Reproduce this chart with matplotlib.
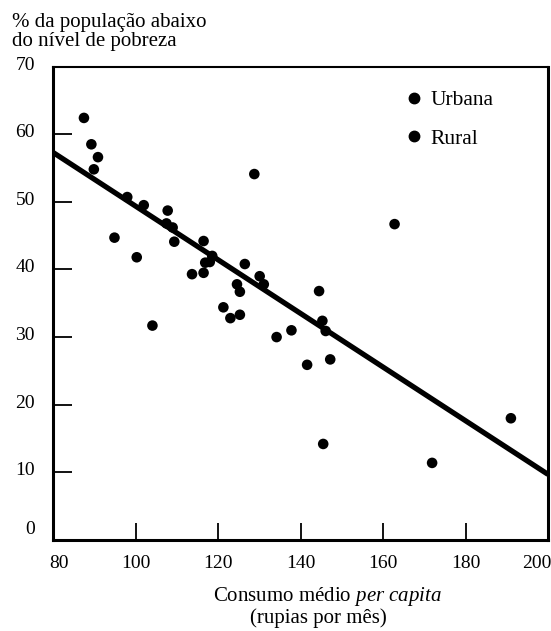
import matplotlib
matplotlib.use("Agg")
import matplotlib.pyplot as plt
import matplotlib.transforms as mtransforms
from matplotlib.lines import Line2D

plt.rcParams['font.family'] = ['Liberation Serif', 'DejaVu Serif']
plt.rcParams['mathtext.fontset'] = 'custom'
plt.rcParams['mathtext.rm'] = 'Liberation Serif'
plt.rcParams['mathtext.it'] = 'Liberation Serif:italic'

# Consumo médio per capita (rupias por mês) e % abaixo da linha de pobreza
consumo = [87.5, 89.3, 90.9, 89.9, 98.0, 102.0, 107.8, 107.5, 109.0, 109.4,
           94.9, 100.3, 116.5, 118.6, 116.9, 118.0, 113.7, 116.5, 104.1, 128.8,
           126.5, 130.1, 131.1, 124.6, 125.3, 121.3, 123.0, 125.3, 134.2, 137.8,
           144.5, 145.3, 146.1, 141.6, 147.2, 145.5, 162.8, 171.9, 191.0]
pobreza = [62.4, 58.5, 56.6, 54.8, 50.7, 49.5, 48.7, 46.8, 46.2, 44.1,
           44.7, 41.8, 44.2, 42.0, 41.0, 41.1, 39.3, 39.5, 31.7, 54.1,
           40.8, 39.0, 37.8, 37.8, 36.7, 34.4, 32.8, 33.3, 30.0, 31.0,
           36.8, 32.4, 30.9, 25.9, 26.7, 14.2, 46.7, 11.4, 18.0]

# Reta de tendência
reta_x = [80, 200]
reta_y = [57.3, 9.7]

x_ticks = [80, 100, 120, 140, 160, 180, 200]
y_ticks = [0, 10, 20, 30, 40, 50, 60, 70]
legenda = ["Urbana", "Rural"]

fig = plt.figure(figsize=(5.51, 6.31), dpi=100)
ax = fig.add_axes([0.0962, 0.1442, 0.8984, 0.7504])

ax.plot(reta_x, reta_y, color='black', lw=3.8, solid_capstyle='butt', zorder=2)
ax.scatter(consumo, pobreza, s=58, color='black', edgecolors='none', zorder=3)

ax.set_xlim(80, 200)
ax.set_ylim(0, 70)

for side in ['left', 'bottom', 'right']:
    ax.spines[side].set_linewidth(2.2)
ax.spines['top'].set_linewidth(1.5)

ax.set_xticks(x_ticks)
ax.set_xticklabels([str(v) for v in x_ticks])
ax.set_yticks(y_ticks)
ax.set_yticklabels([str(v) for v in y_ticks])

ax.tick_params(axis='y', direction='in', length=14, width=1.3, pad=13,
               labelsize=14)
ax.tick_params(axis='x', direction='in', length=12.5, width=1.3, pad=11,
               labelsize=14)

# hide ticks sitting on the frame corners
for t in [ax.xaxis.get_major_ticks()[0], ax.xaxis.get_major_ticks()[-1]]:
    t.tick1line.set_visible(False)
for t in [ax.yaxis.get_major_ticks()[0], ax.yaxis.get_major_ticks()[-1]]:
    t.tick1line.set_visible(False)


def shift(label, dx_px, dy_px):
    label.set_transform(label.get_transform() +
                        mtransforms.ScaledTranslation(dx_px / 100, dy_px / 100,
                                                      fig.dpi_scale_trans))


# lift the y labels slightly; the zero label sits higher
for i, lab in enumerate(ax.get_yticklabels()):
    shift(lab, 0, 13 if i == 0 else 3.5)

# pull the end labels of the x axis inward
xl = ax.get_xticklabels()
shift(xl[0], 6, 0)
shift(xl[-1], -11, 0)

handles = [Line2D([], [], marker='o', color='black', ls='none', markersize=7.5)
           for _ in legenda]
ax.legend(handles, legenda, loc='upper left', bbox_to_anchor=(0.695, 0.968),
          frameon=False, fontsize=15.5, handletextpad=0.35, labelspacing=0.85,
          handlelength=0.8, borderaxespad=0.0)

fig.text(0.022, 0.965, "% da população abaixo", fontsize=15, ha='left', va='center')
fig.text(0.022, 0.935, "do nível de pobreza", fontsize=15, ha='left', va='center')

fig.text(0.595, 0.055, "Consumo médio $\\mathit{per\\ capita}$", fontsize=15,
         ha='center', va='center')
fig.text(0.577, 0.021, "(rupias por mês)", fontsize=15, ha='center', va='center')

fig.savefig("out.png", dpi=100)
